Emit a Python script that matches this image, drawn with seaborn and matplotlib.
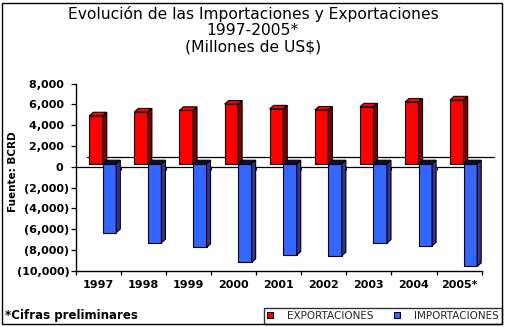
import matplotlib
matplotlib.use("Agg")
import matplotlib.pyplot as plt
import numpy as np
import pandas as pd
import seaborn as sns
from matplotlib.patches import Polygon, Rectangle, Patch
from matplotlib.ticker import FuncFormatter, FixedLocator

# ---- data ----
years = ["1997", "1998", "1999", "2000", "2001", "2002", "2003", "2004", "2005*"]
exportaciones = [4614, 4981, 5137, 5737, 5276, 5165, 5471, 5936, 6145]
importaciones = [6609, 7597, 8041, 9479, 8779, 8838, 7627, 7888, 9869]
series = ["EXPORTACIONES", "IMPORTACIONES"]
yticks = [8000, 6000, 4000, 2000, 0, -2000, -4000, -6000, -8000, -10000]

title = "Evolución de las Importaciones y Exportaciones\n1997-2005*\n(Millones de US$)"
ylabel = "Fuente: BCRD"
note = "*Cifras preliminares"

df = pd.DataFrame({
    "year": years * 2,
    "serie": [series[0]] * len(years) + [series[1]] * len(years),
    "valor": exportaciones + [-v for v in importaciones],
})

sns.set_style("white")
plt.rcParams["font.family"] = ["DejaVu Sans"]

W, H = 506, 327
fig = plt.figure(figsize=(W / 100, H / 100), dpi=100)
fig.patch.set_facecolor("white")
ax = fig.add_axes([75.7 / W, (H - 270.7) / H, 406 / W, 187.2 / H])

front = {series[0]: "#ff0000", series[1]: "#3366ff"}
side_c = {series[0]: "#800000", series[1]: "#333399"}
top_c = {series[0]: "#ff0000", series[1]: "#0d0d33"}

FLOOR = 280
sns.barplot(data=df, x="year", y="valor", hue="serie", order=years,
            hue_order=series, palette=front, saturation=1, width=0.6,
            dodge=True, bottom=FLOOR, edgecolor="black", linewidth=0.8,
            errorbar=None, legend=False, ax=ax)

DX, DY = 0.089, 340
SHIFT = 0.10
bars = list(ax.patches)
n = len(years)
for i, p in enumerate(bars):
    s = series[0] if i < n else series[1]
    z = 3 if i < n else 4
    p.set_x(p.get_x() + SHIFT)
    p.set_zorder(z)
    x0 = p.get_x()
    x1 = x0 + p.get_width()
    y0 = p.get_y()
    y1 = y0 + p.get_height()
    lo, hi = min(y0, y1), max(y0, y1)
    ax.add_patch(Polygon([(x0, hi), (x1, hi), (x1 + DX, hi + DY), (x0 + DX, hi + DY)],
                         closed=True, fc=top_c[s], ec="black", lw=0.8, zorder=z))
    ax.add_patch(Polygon([(x1, lo), (x1, hi), (x1 + DX, hi + DY), (x1 + DX, lo + DY)],
                         closed=True, fc=side_c[s], ec="black", lw=0.8, zorder=z))

ax.set_xlim(-0.5, len(years) - 0.5)
ax.set_ylim(-10000, 8000)

# front zero line, back floor line and small ticks along the zero line
ax.plot([-0.5, len(years) - 0.5], [0, 0], color="black", lw=0.9, zorder=2)
ax.plot([-0.244, 8.77], [900, 900], color="black", lw=0.9, zorder=1, clip_on=False)
bounds = np.arange(0.5, len(years), 1.0)
ax.vlines(bounds, -350, 0, color="black", lw=0.8, zorder=2)

# axes styling
for sp in ["top", "right"]:
    ax.spines[sp].set_visible(False)
for sp in ["left", "bottom"]:
    ax.spines[sp].set_color("black")
    ax.spines[sp].set_linewidth(1.0)

ax.yaxis.set_major_locator(FixedLocator(yticks))
def fmt(v, pos):
    v = int(round(v))
    if v < 0:
        return "({:,})".format(-v)
    return "{:,}\u2002".format(v)
ax.yaxis.set_major_formatter(FuncFormatter(fmt))
ax.tick_params(axis="y", which="major", direction="out", length=3.5, width=0.9,
               pad=1.0, labelsize=8, colors="black", left=True)
for lbl in ax.get_yticklabels():
    lbl.set_fontweight("bold")

ax.set_xticks(range(len(years)))
ax.set_xticklabels(years, fontweight="bold", fontsize=8)
ax.set_xticks(np.arange(-0.5, len(years), 1.0), minor=True)
ax.tick_params(axis="x", which="major", length=0, pad=7, colors="black")
ax.tick_params(axis="x", which="minor", direction="out", length=3, width=0.9,
               bottom=True, colors="black")
ax.set_xlabel("")
ax.set_ylabel(ylabel, fontsize=7.5, fontweight="bold", color="black")
ax.yaxis.set_label_coords(-0.143, 0.527)

# title and note
fig.text(0.5, 1 - 6 / H, title, ha="center", va="top", fontsize=11.2,
         linespacing=1.1, color="black")
fig.text(5 / W, (H - 315) / H, note, ha="left", va="center", fontsize=8.5,
         fontweight="bold", color="black")

# legend
handles = [Patch(facecolor=front[s], edgecolor="black", linewidth=0.8) for s in series]
leg = fig.legend(handles, series, ncol=2, mode="expand",
                 bbox_to_anchor=(264 / W, 3 / H, 238 / W, 16 / H), loc="lower left",
                 fontsize=7.5, frameon=True, fancybox=False, shadow=False,
                 borderaxespad=0, borderpad=0.3, handlelength=0.55, handleheight=0.55,
                 handletextpad=1.4, columnspacing=0.5)
leg.get_frame().set_edgecolor("black")
leg.get_frame().set_linewidth(1.0)

# outer border
fig.patches.append(Rectangle((2 / W, 3 / H), 500 / W, 321 / H, transform=fig.transFigure,
                             fill=False, edgecolor="black", linewidth=1.0, zorder=10))

fig.savefig("out.png", dpi=100, facecolor="white")
